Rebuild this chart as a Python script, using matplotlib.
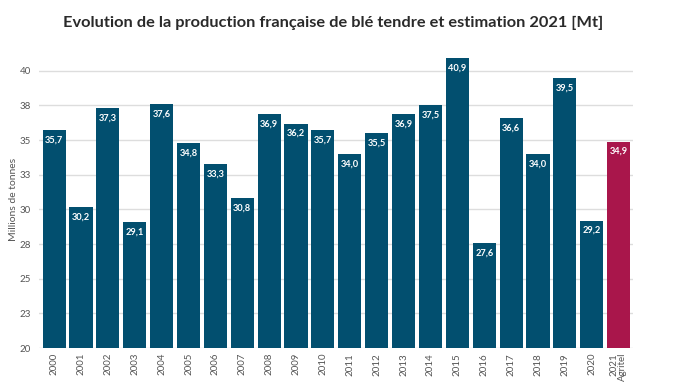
import matplotlib
matplotlib.use("Agg")
import matplotlib.pyplot as plt

years = ["2000", "2001", "2002", "2003", "2004", "2005", "2006", "2007", "2008", "2009", "2010",
         "2011", "2012", "2013", "2014", "2015", "2016", "2017", "2018", "2019", "2020", "2021\nAgritel"]
values = [35.7, 30.2, 37.3, 29.1, 37.6, 34.8, 33.3, 30.8, 36.9, 36.2, 35.7,
          34.0, 35.5, 36.9, 37.5, 40.9, 27.6, 36.6, 34.0, 39.5, 29.2, 34.9]
yticks = [20, 22.5, 25, 27.5, 30, 32.5, 35, 37.5, 40]
ytick_labels = ["20", "23", "25", "28", "30", "33", "35", "38", "40"]

blue = "#024F6F"
red = "#A9164B"
colors = [blue] * (len(values) - 1) + [red]

plt.rcParams['font.family'] = ['Lato', 'DejaVu Sans']
fig = plt.figure(figsize=(6.9, 3.88), dpi=100)
ax = fig.add_axes([0.057, 0.103, 0.861, 0.768])

x = list(range(len(values)))
bars = ax.bar(x, values, width=0.86, color=colors, zorder=3)
ax.set_xlim(-0.55, len(values) - 0.45)
ax.set_ylim(20, 41.5)
ax.set_yticks(yticks)
ax.set_yticklabels(ytick_labels)
ax.set_xticks(x)
ax.set_xticklabels(years, rotation=90, va="top", ha="center", linespacing=0.9, ma="right")
ax.tick_params(axis="both", length=0, labelsize=7, colors="#555555")
ax.tick_params(axis="y", pad=6)
for s in ax.spines.values():
    s.set_visible(False)
for t in yticks:
    ax.axhline(t, color="#dddddd", lw=1, zorder=1)

for xi, v in zip(x, values):
    ax.annotate(f"{v:.1f}".replace(".", ","), (xi, v), xytext=(0, -4), textcoords="offset points",
                ha="center", va="top", color="white", fontsize=6.7, fontweight="bold", zorder=4)

ax.set_ylabel("Millions de tonnes", fontsize=7.5, color="#555555")
ax.yaxis.set_label_coords(-0.036, 0.5)
fig.text(0.483, 0.942, "Evolution de la production française de blé tendre et estimation 2021 [Mt]",
         ha="center", va="center", fontsize=11.8, fontweight="bold", color="#2a2a2a")

fig.savefig("out.png", dpi=100)
